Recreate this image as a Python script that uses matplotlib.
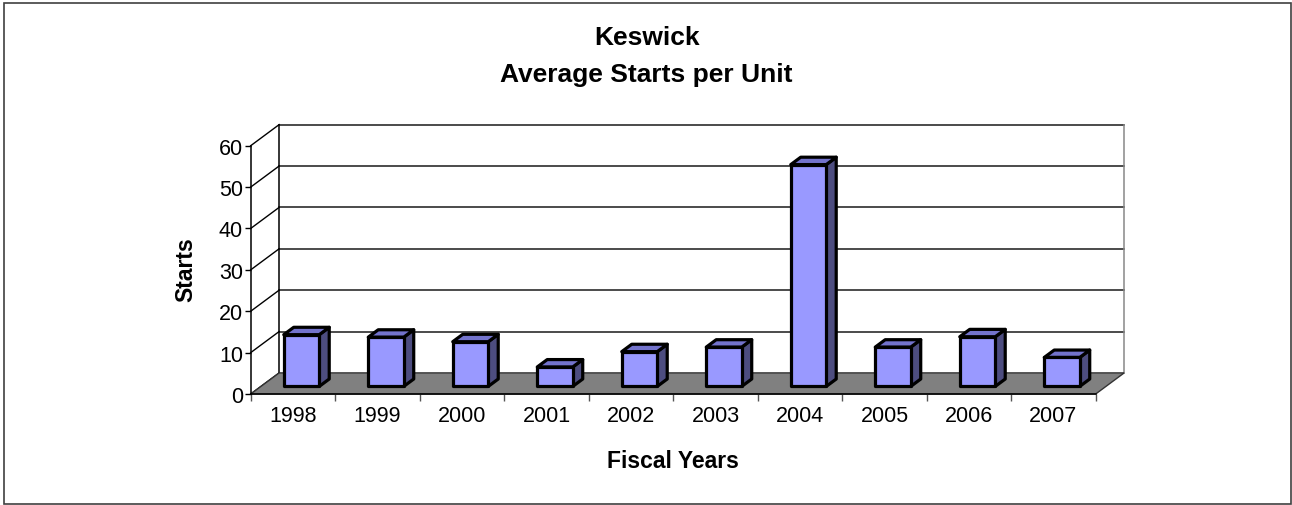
import matplotlib
matplotlib.use("Agg")
import matplotlib.pyplot as plt
from matplotlib.patches import Polygon, Rectangle

plt.rcParams['font.family'] = ['Liberation Sans', 'DejaVu Sans']

years = ['1998', '1999', '2000', '2001', '2002', '2003', '2004', '2005', '2006', '2007']
starts = [12.5, 11.9, 10.8, 4.7, 8.4, 9.5, 53.6, 9.5, 12.0, 7.0]
yticks = [0, 10, 20, 30, 40, 50, 60]

W, H = 1292, 506
fig = plt.figure(figsize=(W / 100, H / 100), dpi=100)
fig.patch.set_facecolor('white')

# front plane of the plot (x: 0..10 categories, y: 0..60)
ax = fig.add_axes([250.7 / W, 111 / H, 845 / W, 248.3 / H])
ax.set_xlim(0, len(years))
ax.set_ylim(0, 60)
ax.patch.set_visible(False)

# depth of the fake 3d box, in data units
DX, DY = 0.337, 5.1
n = len(years)

# floor
ax.add_patch(Polygon([(0, 0), (n, 0), (n + DX, DY), (DX, DY)], closed=True,
                     facecolor='#808080', edgecolor='#333333', lw=1, clip_on=False, zorder=1))
# back wall grid
for v in yticks[1:]:
    ax.plot([DX, n + DX], [v + DY, v + DY], color='#1a1a1a', lw=1.1, clip_on=False, zorder=0.5)
ax.plot([DX, DX], [DY, 60 + DY], color='black', lw=1.1, clip_on=False, zorder=0.5)
ax.plot([n + DX, n + DX], [DY, 60 + DY], color='#888888', lw=1.1, clip_on=False, zorder=0.5)
# side wall diagonals
for v in yticks:
    ax.plot([0, DX], [v, v + DY], color='black', lw=1, clip_on=False, zorder=0.6)

# bars
f1, f2 = 0.36, 0.71
bw = 0.42
ddx, ddy = (f2 - f1) * DX, (f2 - f1) * DY
for i, v in enumerate(starts):
    x0 = i + 0.5 - bw / 2 + f1 * DX - 0.02
    x1 = x0 + bw
    yb = f1 * DY
    yt = yb + v
    kw = dict(edgecolor='black', lw=2.3, joinstyle='round', clip_on=False, zorder=3 + i * 0.01)
    ax.add_patch(Polygon([(x1, yb), (x1 + ddx, yb + ddy), (x1 + ddx, yt + ddy), (x1, yt)],
                         closed=True, facecolor='#4d4d80', **kw))
    ax.add_patch(Polygon([(x0, yt), (x1, yt), (x1 + ddx, yt + ddy), (x0 + ddx, yt + ddy)],
                         closed=True, facecolor='#7373cc', **kw))
    ax.add_patch(Rectangle((x0, yb), bw, v, facecolor='#9999ff', **kw))

for s in ['top', 'right']:
    ax.spines[s].set_visible(False)
ax.spines['left'].set_linewidth(1.1)
ax.spines['bottom'].set_linewidth(1.1)

ax.set_yticks(yticks)
ax.tick_params(axis='y', direction='out', length=4, width=1, pad=1.5, labelsize=15.5)
ax.set_xticks([i + 0.5 for i in range(n)])
ax.set_xticklabels(years)
ax.set_xticks(range(n + 1), minor=True)
ax.tick_params(axis='x', which='major', length=0, pad=8, labelsize=15.5)
ax.tick_params(axis='x', which='minor', direction='out', length=5, width=1, color='#555555')

fig.text(646.7 / W, 1 - 38.3 / H, 'Keswick', ha='center', va='center',
         fontsize=19, fontweight='bold')
fig.text(646.7 / W, 1 - 75 / H, 'Average Starts per Unit', ha='center', va='center',
         fontsize=19, fontweight='bold')
fig.text(186 / W, 1 - 270 / H, 'Starts', rotation=90, ha='center', va='center',
         fontsize=16.5, fontweight='bold')
fig.text(673 / W, 1 - 461.7 / H, 'Fiscal Years', ha='center', va='center',
         fontsize=16.5, fontweight='bold')

# chart border
fig.add_artist(Rectangle((4 / W, 1.5 / H), 1286.5 / W, 500.5 / H, transform=fig.transFigure,
                         fill=False, edgecolor='#404040', lw=1.2))

fig.savefig('out.png', dpi=100)
